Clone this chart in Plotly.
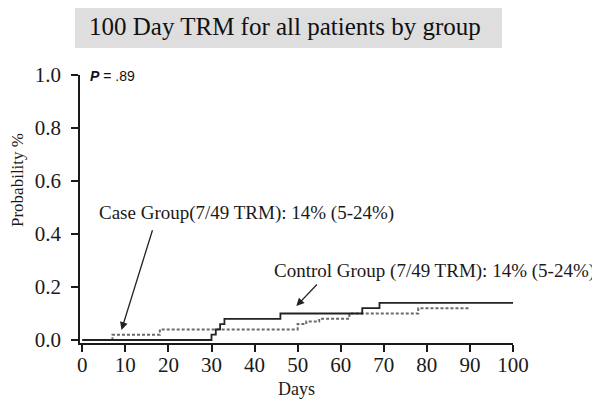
import plotly.graph_objects as go

# Data
control_days = [0, 30, 31, 32, 33, 46, 65, 69, 100]
control_prob = [0.0, 0.02, 0.04, 0.06, 0.08, 0.10, 0.12, 0.14, 0.14]
case_days = [0, 7, 18, 50, 52, 55, 62, 78, 90]
case_prob = [0.0, 0.02, 0.04, 0.06, 0.07, 0.08, 0.10, 0.12, 0.12]

x_ticks = [0, 10, 20, 30, 40, 50, 60, 70, 80, 90, 100]
y_ticks = [0.0, 0.2, 0.4, 0.6, 0.8, 1.0]
y_tick_labels = ["0.0", "0.2", "0.4", "0.6", "0.8", "1.0"]

title_text = "100 Day TRM for all patients by group"
case_label = "Case Group(7/49 TRM): 14% (5-24%)"
control_label = "Control Group (7/49 TRM): 14% (5-24%)"

SERIF = "Liberation Serif, Times New Roman, serif"

fig = go.Figure()
fig.add_trace(go.Scatter(x=case_days, y=case_prob, mode="lines", line_shape="hv",
                         line=dict(color="#6a6a6a", width=2, dash="3px,2px"),
                         showlegend=False, hoverinfo="skip"))
fig.add_trace(go.Scatter(x=control_days, y=control_prob, mode="lines", line_shape="hv",
                         line=dict(color="#222222", width=1.8),
                         showlegend=False, hoverinfo="skip"))

OFF = 8  # page body margin
W, H = 600 - OFF, 410 - OFF
L, R, T, B = 80 - OFF, 513 - OFF, 75 - OFF, 343 - OFF

fig.update_layout(
    width=W, height=H,
    margin=dict(l=L, r=W - R, t=T, b=H - B, pad=0),
    paper_bgcolor="white", plot_bgcolor="white",
    font=dict(family=SERIF, color="#1a1a1a"),
    xaxis=dict(range=[-0.53, 100], tickvals=x_ticks, showgrid=False, zeroline=False,
               showline=True, linecolor="#1a1a1a", linewidth=1.5,
               ticks="outside", ticklen=7, tickwidth=1.5, tickcolor="#1a1a1a",
               ticklabelstandoff=-5,
               tickfont=dict(size=21, family=SERIF),
               title=dict(text="Days", font=dict(size=18, family=SERIF), standoff=6)),
    yaxis=dict(range=[-0.0113, 1.0], tickvals=y_ticks, ticktext=y_tick_labels,
               showgrid=False, zeroline=False,
               showline=True, linecolor="#1a1a1a", linewidth=1.5,
               ticks="outside", ticklen=7, tickwidth=1.5, tickcolor="#1a1a1a",
               ticklabelstandoff=6,
               tickfont=dict(size=21, family=SERIF)),
)

def px2paper(px, py):
    # px, py in page pixels of the reference
    px -= OFF
    py -= OFF
    return (px - L) / (R - L), (B - py) / (B - T)

x0, y0 = px2paper(75, 48)
x1, y1 = px2paper(502, 3)
fig.add_shape(type="rect", xref="paper", yref="paper", x0=x0, y0=y0, x1=x1, y1=y1,
              fillcolor="#dedede", line=dict(width=0), layer="below")
tx, ty = px2paper(285, 26)
fig.add_annotation(xref="paper", yref="paper", x=tx, y=ty, text=title_text, showarrow=False,
                   font=dict(size=25, family=SERIF, color="#111111"), xanchor="center", yanchor="middle")

# Y axis title
yx, yy = px2paper(17, 180)
fig.add_annotation(xref="paper", yref="paper", x=yx, y=yy, text="Probability %", showarrow=False,
                   textangle=-90, font=dict(size=17, family=SERIF, color="#1a1a1a"),
                   xanchor="center", yanchor="middle")

# P value
px_, py_ = px2paper(88, 76)
fig.add_annotation(xref="paper", yref="paper", x=px_, y=py_,
                   text="<b><i>P</i></b> = .89", showarrow=False,
                   font=dict(size=14, family="Liberation Sans, Arial, sans-serif", color="#111111"),
                   xanchor="left", yanchor="middle")

# Group labels
fig.add_annotation(x=38.1, y=0.479, xref="x", yref="y", text=case_label, showarrow=False,
                   font=dict(size=19, family=SERIF, color="#1a1a1a"), xanchor="center", yanchor="middle")
fig.add_annotation(x=81.8, y=0.26, xref="x", yref="y", text=control_label, showarrow=False,
                   font=dict(size=19, family=SERIF, color="#1a1a1a"), xanchor="center", yanchor="middle")

# Arrows
fig.add_annotation(x=9.1, y=0.038, ax=16.4, ay=0.42, xref="x", yref="y", axref="x", ayref="y",
                   text="", showarrow=True, arrowhead=2, arrowsize=1.2, arrowwidth=1.3,
                   arrowcolor="#222222")
fig.add_annotation(x=49.7, y=0.128, ax=54.8, ay=0.215, xref="x", yref="y", axref="x", ayref="y",
                   text="", showarrow=True, arrowhead=2, arrowsize=1.2, arrowwidth=1.3,
                   arrowcolor="#222222")

fig.write_html("out.html")
